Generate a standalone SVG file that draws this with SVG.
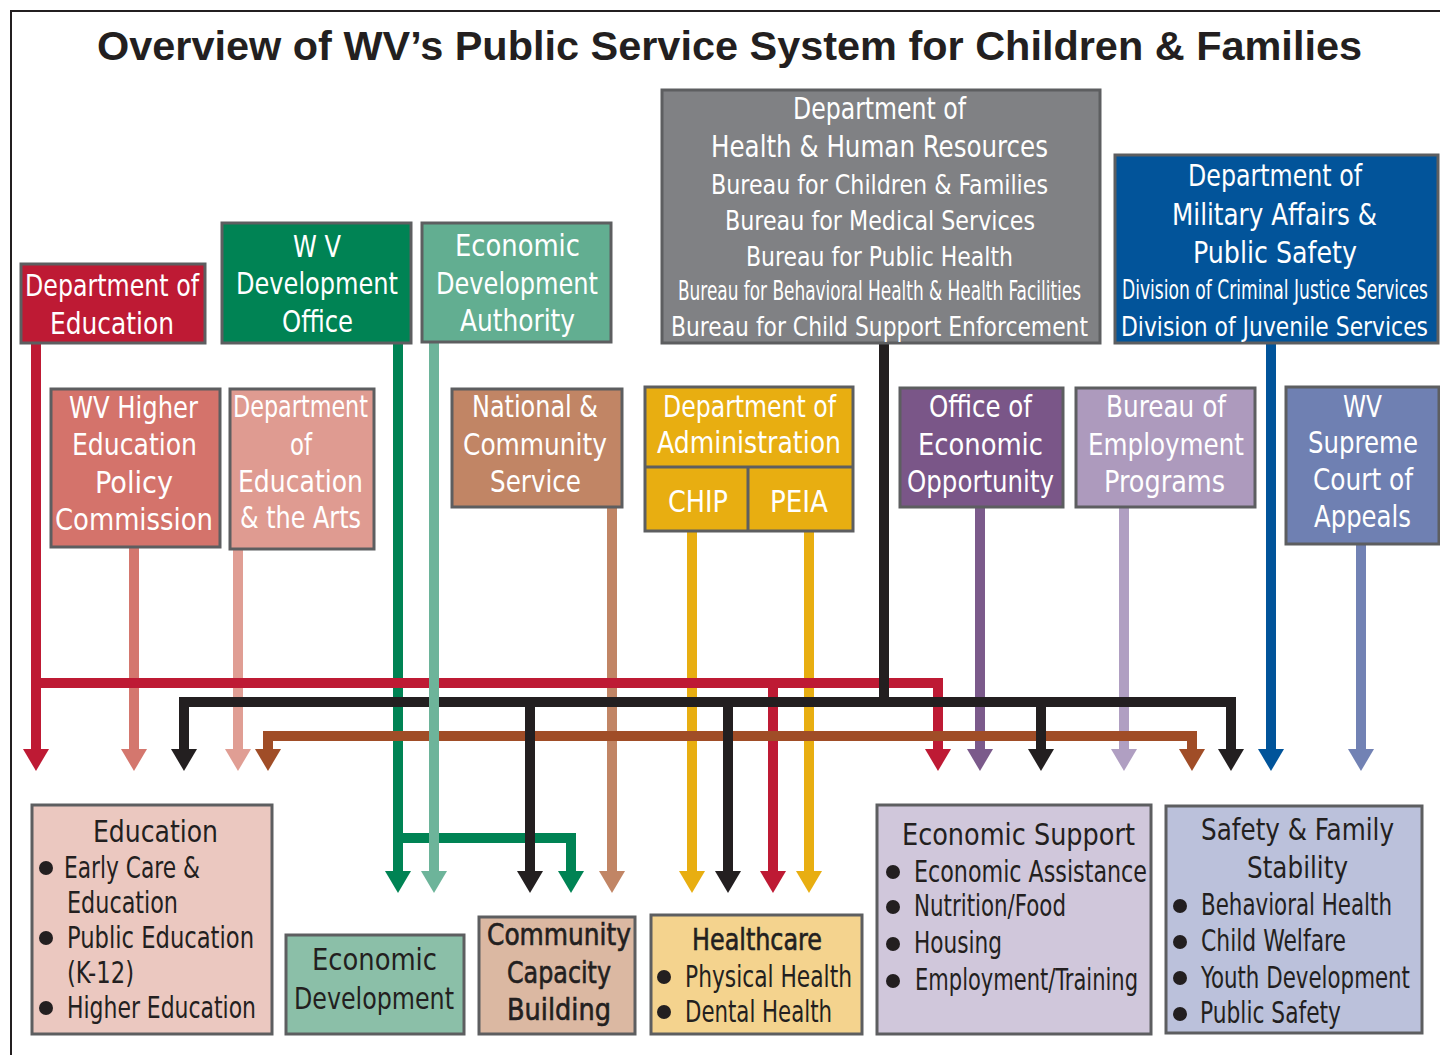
<svg xmlns="http://www.w3.org/2000/svg" xmlns:xlink="http://www.w3.org/1999/xlink" width="1440" height="1055" viewBox="0 0 1440 1055">
  <style>
    .box { stroke: #5d5e60; stroke-width: 3; }
    .t { font-family: "Liberation Sans Narrow", "DejaVu Sans Condensed", "Arial Narrow", sans-serif; font-size: 30px; text-anchor: middle; }
    .s { font-size: 27px; }
    .l { text-anchor: start; }
    .w { fill: #ffffff; }
    .d { fill: #231f20; }
    .m { stroke: #231f20; stroke-width: 0.6; }
    .title { font-family: "Liberation Sans", Arial, sans-serif; font-weight: bold; font-size: 41px; fill: #231f20; text-anchor: middle; }
    .ln { fill: none; stroke-width: 10; stroke-linecap: butt; stroke-linejoin: miter; }
    .c-red { stroke: #be1a34; } .f-red { fill: #be1a34; }
    .c-grn { stroke: #008354; } .f-grn { fill: #008354; }
    .c-lgn { stroke: #6db49a; } .f-lgn { fill: #6db49a; }
    .c-blk { stroke: #231f20; } .f-blk { fill: #231f20; }
    .c-blu { stroke: #01549a; } .f-blu { fill: #01549a; }
    .c-sal { stroke: #d4776e; } .f-sal { fill: #d4776e; }
    .c-pnk { stroke: #e09e94; } .f-pnk { fill: #e09e94; }
    .c-tan { stroke: #c18565; } .f-tan { fill: #c18565; }
    .c-yel { stroke: #e8ae11; } .f-yel { fill: #e8ae11; }
    .c-pur { stroke: #7b5a8b; } .f-pur { fill: #7b5a8b; }
    .c-lav { stroke: #b09fc2; } .f-lav { fill: #b09fc2; }
    .c-sla { stroke: #7282b4; } .f-sla { fill: #7282b4; }
    .c-brn { stroke: #a04d27; } .f-brn { fill: #a04d27; }
    .bullet { fill: #231f20; }
  </style>
  <defs>
    <!-- downward arrowhead, base centred at the origin -->
    <path id="ah" d="M-13,0 H13 L0,22 Z"/>
  </defs>

  <rect width="1440" height="1055" fill="#ffffff"/>
  <!-- page frame -->
  <path d="M11,1055 V11 H1440" fill="none" stroke="#231f20" stroke-width="2"/>

  <text class="title" x="729.5" y="60" textLength="1265" lengthAdjust="spacingAndGlyphs">Overview of WV’s Public Service System for Children &amp; Families</text>

  <!-- connectors -->
  <g id="connectors">
    <!-- lines that pass beneath the horizontal buses -->
    <path class="ln c-grn" d="M398,343 V871"/>
    <path class="ln c-grn" d="M398,838 H571 V871"/>
    <path class="ln c-sal" d="M134,547 V749"/>
    <path class="ln c-pnk" d="M238,549 V749"/>
    <path class="ln c-tan" d="M612,507 V871"/>
    <path class="ln c-yel" d="M692,531 V871"/>
    <path class="ln c-yel" d="M809,531 V871"/>
    <path class="ln c-pur" d="M980,507 V749"/>
    <path class="ln c-lav" d="M1124,507 V749"/>
    <path class="ln c-blu" d="M1271,343 V749"/>
    <path class="ln c-sla" d="M1361,544 V749"/>
    <!-- Department of Education bus -->
    <path class="ln c-red" d="M36,343 V749"/>
    <path class="ln c-red" d="M36,683 H938 V749"/>
    <path class="ln c-red" d="M773,683 V871"/>
    <!-- rust bus -->
    <path class="ln c-brn" d="M268,749 V736 H1192 V749"/>
    <!-- DHHR bus -->
    <path class="ln c-blk" d="M884,343 V702"/>
    <path class="ln c-blk" d="M184,749 V702 H1231 V749"/>
    <path class="ln c-blk" d="M530,702 V871"/>
    <path class="ln c-blk" d="M728,702 V871"/>
    <path class="ln c-blk" d="M1041,702 V749"/>
    <!-- EDA line runs over everything -->
    <path class="ln c-lgn" d="M434,343 V871"/>

    <!-- arrowheads, upper row -->
    <use xlink:href="#ah" href="#ah" x="36" y="749" class="f-red"/>
    <use xlink:href="#ah" href="#ah" x="134" y="749" class="f-sal"/>
    <use xlink:href="#ah" href="#ah" x="184" y="749" class="f-blk"/>
    <use xlink:href="#ah" href="#ah" x="238" y="749" class="f-pnk"/>
    <use xlink:href="#ah" href="#ah" x="268" y="749" class="f-brn"/>
    <use xlink:href="#ah" href="#ah" x="938" y="749" class="f-red"/>
    <use xlink:href="#ah" href="#ah" x="980" y="749" class="f-pur"/>
    <use xlink:href="#ah" href="#ah" x="1041" y="749" class="f-blk"/>
    <use xlink:href="#ah" href="#ah" x="1124" y="749" class="f-lav"/>
    <use xlink:href="#ah" href="#ah" x="1192" y="749" class="f-brn"/>
    <use xlink:href="#ah" href="#ah" x="1231" y="749" class="f-blk"/>
    <use xlink:href="#ah" href="#ah" x="1271" y="749" class="f-blu"/>
    <use xlink:href="#ah" href="#ah" x="1361" y="749" class="f-sla"/>
    <!-- arrowheads, lower row -->
    <use xlink:href="#ah" href="#ah" x="398" y="871" class="f-grn"/>
    <use xlink:href="#ah" href="#ah" x="434" y="871" class="f-lgn"/>
    <use xlink:href="#ah" href="#ah" x="530" y="871" class="f-blk"/>
    <use xlink:href="#ah" href="#ah" x="571" y="871" class="f-grn"/>
    <use xlink:href="#ah" href="#ah" x="612" y="871" class="f-tan"/>
    <use xlink:href="#ah" href="#ah" x="692" y="871" class="f-yel"/>
    <use xlink:href="#ah" href="#ah" x="728" y="871" class="f-blk"/>
    <use xlink:href="#ah" href="#ah" x="773" y="871" class="f-red"/>
    <use xlink:href="#ah" href="#ah" x="809" y="871" class="f-yel"/>
  </g>

  <!-- top row: departments -->
  <g id="dept-education">
    <rect class="box" x="21" y="264" width="184" height="79" fill="#be1a34"/>
    <text class="t w" x="112" y="296" textLength="174" lengthAdjust="spacingAndGlyphs">Department of</text>
    <text class="t w" x="112" y="334" textLength="124" lengthAdjust="spacingAndGlyphs">Education</text>
  </g>
  <g id="wv-development-office">
    <rect class="box" x="222" y="223" width="189" height="120" fill="#008354"/>
    <text class="t w" x="317" y="257" textLength="48" lengthAdjust="spacingAndGlyphs">W V</text>
    <text class="t w" x="317" y="294" textLength="162" lengthAdjust="spacingAndGlyphs">Development</text>
    <text class="t w" x="317.5" y="332" textLength="71" lengthAdjust="spacingAndGlyphs">Office</text>
  </g>
  <g id="economic-development-authority">
    <rect class="box" x="422" y="223" width="189" height="119" fill="#62ae91"/>
    <text class="t w" x="517.5" y="256" textLength="125" lengthAdjust="spacingAndGlyphs">Economic</text>
    <text class="t w" x="517" y="294" textLength="162" lengthAdjust="spacingAndGlyphs">Development</text>
    <text class="t w" x="517.5" y="331" textLength="115" lengthAdjust="spacingAndGlyphs">Authority</text>
  </g>
  <g id="dhhr">
    <rect class="box" x="662" y="90" width="438" height="253" fill="#808184"/>
    <text class="t w" x="879.5" y="119" textLength="173" lengthAdjust="spacingAndGlyphs">Department of</text>
    <text class="t w" x="879.5" y="157" textLength="337" lengthAdjust="spacingAndGlyphs">Health &amp; Human Resources</text>
    <text class="t s w" x="879.5" y="194" textLength="337" lengthAdjust="spacingAndGlyphs">Bureau for Children &amp; Families</text>
    <text class="t s w" x="880" y="230" textLength="310" lengthAdjust="spacingAndGlyphs">Bureau for Medical Services</text>
    <text class="t s w" x="879.5" y="266" textLength="267" lengthAdjust="spacingAndGlyphs">Bureau for Public Health</text>
    <text class="t s w" x="879.5" y="300" textLength="403" lengthAdjust="spacingAndGlyphs">Bureau for Behavioral Health &amp; Health Facilities</text>
    <text class="t s w" x="879.5" y="336" textLength="417" lengthAdjust="spacingAndGlyphs">Bureau for Child Support Enforcement</text>
  </g>
  <g id="military-affairs">
    <rect class="box" x="1115" y="155" width="323" height="188" fill="#02549a"/>
    <text class="t w" x="1275" y="186" textLength="174" lengthAdjust="spacingAndGlyphs">Department of</text>
    <text class="t w" x="1274.5" y="225" textLength="205" lengthAdjust="spacingAndGlyphs">Military Affairs &amp;</text>
    <text class="t w" x="1275" y="263" textLength="164" lengthAdjust="spacingAndGlyphs">Public Safety</text>
    <text class="t s w" x="1275" y="299" textLength="306" lengthAdjust="spacingAndGlyphs">Division of Criminal Justice Services</text>
    <text class="t s w" x="1274.5" y="336" textLength="307" lengthAdjust="spacingAndGlyphs">Division of Juvenile Services</text>
  </g>

  <!-- middle row: commissions, offices and bureaus -->
  <g id="higher-education-commission">
    <rect class="box" x="51" y="389" width="169" height="158" fill="#d4736b"/>
    <text class="t w" x="133.5" y="418" textLength="129" lengthAdjust="spacingAndGlyphs">WV Higher</text>
    <text class="t w" x="134.5" y="455" textLength="125" lengthAdjust="spacingAndGlyphs">Education</text>
    <text class="t w" x="134" y="493" textLength="78" lengthAdjust="spacingAndGlyphs">Policy</text>
    <text class="t w" x="134" y="530" textLength="158" lengthAdjust="spacingAndGlyphs">Commission</text>
  </g>
  <g id="education-and-arts">
    <rect class="box" x="230" y="389" width="144" height="160" fill="#df9b91"/>
    <text class="t w" x="300.5" y="417" textLength="135" lengthAdjust="spacingAndGlyphs">Department</text>
    <text class="t w" x="301" y="455" textLength="22" lengthAdjust="spacingAndGlyphs">of</text>
    <text class="t w" x="300.5" y="492" textLength="125" lengthAdjust="spacingAndGlyphs">Education</text>
    <text class="t w" x="300.5" y="528" textLength="121" lengthAdjust="spacingAndGlyphs">&amp; the Arts</text>
  </g>
  <g id="national-community-service">
    <rect class="box" x="452" y="389" width="170" height="118" fill="#c18565"/>
    <text class="t w" x="535" y="417" textLength="126" lengthAdjust="spacingAndGlyphs">National &amp;</text>
    <text class="t w" x="535" y="455" textLength="144" lengthAdjust="spacingAndGlyphs">Community</text>
    <text class="t w" x="535.5" y="492" textLength="91" lengthAdjust="spacingAndGlyphs">Service</text>
  </g>
  <g id="dept-administration">
    <rect class="box" x="645" y="387" width="208" height="144" fill="#e8ae11"/>
    <path d="M645,467 H853 M748,467 V531" stroke="#5d5e60" stroke-width="3" fill="none"/>
    <text class="t w" x="749.5" y="417" textLength="173" lengthAdjust="spacingAndGlyphs">Department of</text>
    <text class="t w" x="749" y="453" textLength="184" lengthAdjust="spacingAndGlyphs">Administration</text>
    <text class="t w" x="698" y="512" textLength="60" lengthAdjust="spacingAndGlyphs">CHIP</text>
    <text class="t w" x="799" y="512" textLength="58" lengthAdjust="spacingAndGlyphs">PEIA</text>
  </g>
  <g id="economic-opportunity">
    <rect class="box" x="900" y="388" width="163" height="119" fill="#7a5688"/>
    <text class="t w" x="980.5" y="417" textLength="103" lengthAdjust="spacingAndGlyphs">Office of</text>
    <text class="t w" x="980.5" y="455" textLength="125" lengthAdjust="spacingAndGlyphs">Economic</text>
    <text class="t w" x="980.5" y="492" textLength="147" lengthAdjust="spacingAndGlyphs">Opportunity</text>
  </g>
  <g id="employment-programs">
    <rect class="box" x="1076" y="388" width="179" height="119" fill="#ad9abd"/>
    <text class="t w" x="1166" y="417" textLength="120" lengthAdjust="spacingAndGlyphs">Bureau of</text>
    <text class="t w" x="1166" y="455" textLength="156" lengthAdjust="spacingAndGlyphs">Employment</text>
    <text class="t w" x="1164.5" y="492" textLength="121" lengthAdjust="spacingAndGlyphs">Programs</text>
  </g>
  <g id="supreme-court">
    <rect class="box" x="1286" y="387" width="153" height="157" fill="#6f80b2"/>
    <text class="t w" x="1362.5" y="417" textLength="39" lengthAdjust="spacingAndGlyphs">WV</text>
    <text class="t w" x="1363" y="453" textLength="110" lengthAdjust="spacingAndGlyphs">Supreme</text>
    <text class="t w" x="1363" y="490" textLength="100" lengthAdjust="spacingAndGlyphs">Court of</text>
    <text class="t w" x="1362.5" y="527" textLength="97" lengthAdjust="spacingAndGlyphs">Appeals</text>
  </g>

  <!-- bottom row: service areas -->
  <g id="area-education">
    <rect class="box" x="32" y="805" width="240" height="229" fill="#ebc8c0"/>
    <text class="t d" x="155.5" y="842" textLength="125" lengthAdjust="spacingAndGlyphs">Education</text>
    <circle class="bullet" cx="46" cy="868" r="7"/>
    <text class="t l d" x="64" y="878" textLength="136" lengthAdjust="spacingAndGlyphs">Early Care &amp;</text>
    <text class="t l d" x="67" y="913" textLength="111" lengthAdjust="spacingAndGlyphs">Education</text>
    <circle class="bullet" cx="46" cy="938" r="7"/>
    <text class="t l d" x="67" y="948" textLength="187" lengthAdjust="spacingAndGlyphs">Public Education</text>
    <text class="t l d" x="67" y="983" textLength="67" lengthAdjust="spacingAndGlyphs">(K-12)</text>
    <circle class="bullet" cx="46" cy="1008" r="7"/>
    <text class="t l d" x="67" y="1018" textLength="189" lengthAdjust="spacingAndGlyphs">Higher Education</text>
  </g>
  <g id="area-economic-development">
    <rect class="box" x="286" y="935" width="178" height="99" fill="#8bbfa8"/>
    <text class="t d" x="374.5" y="970" textLength="125" lengthAdjust="spacingAndGlyphs">Economic</text>
    <text class="t d" x="374" y="1009" textLength="160" lengthAdjust="spacingAndGlyphs">Development</text>
  </g>
  <g id="area-community-capacity">
    <rect class="box" x="479" y="917" width="156" height="117" fill="#dbb8a2"/>
    <text class="t d m" x="559" y="945" textLength="144" lengthAdjust="spacingAndGlyphs">Community</text>
    <text class="t d m" x="559" y="983" textLength="104" lengthAdjust="spacingAndGlyphs">Capacity</text>
    <text class="t d m" x="559" y="1020" textLength="104" lengthAdjust="spacingAndGlyphs">Building</text>
  </g>
  <g id="area-healthcare">
    <rect class="box" x="651" y="915" width="211" height="119" fill="#f4d38e"/>
    <text class="t d m" x="757" y="950" textLength="130" lengthAdjust="spacingAndGlyphs">Healthcare</text>
    <circle class="bullet" cx="664" cy="977" r="7"/>
    <text class="t l d" x="685" y="987" textLength="167" lengthAdjust="spacingAndGlyphs">Physical Health</text>
    <circle class="bullet" cx="664" cy="1012" r="7"/>
    <text class="t l d" x="685" y="1022" textLength="147" lengthAdjust="spacingAndGlyphs">Dental Health</text>
  </g>
  <g id="area-economic-support">
    <rect class="box" x="877" y="805" width="274" height="229" fill="#d0c7db"/>
    <text class="t d" x="1018.5" y="845" textLength="233" lengthAdjust="spacingAndGlyphs">Economic Support</text>
    <circle class="bullet" cx="893" cy="872" r="7"/>
    <text class="t l d" x="914" y="882" textLength="233" lengthAdjust="spacingAndGlyphs">Economic Assistance</text>
    <circle class="bullet" cx="893" cy="907" r="7"/>
    <text class="t l d" x="914" y="916" textLength="152" lengthAdjust="spacingAndGlyphs">Nutrition/Food</text>
    <circle class="bullet" cx="893" cy="944" r="7"/>
    <text class="t l d" x="914" y="953" textLength="88" lengthAdjust="spacingAndGlyphs">Housing</text>
    <circle class="bullet" cx="893" cy="981" r="7"/>
    <text class="t l d" x="915" y="990" textLength="223" lengthAdjust="spacingAndGlyphs">Employment/Training</text>
  </g>
  <g id="area-safety-family-stability">
    <rect class="box" x="1166" y="806" width="256" height="227" fill="#bbc1db"/>
    <text class="t d" x="1297.5" y="840" textLength="193" lengthAdjust="spacingAndGlyphs">Safety &amp; Family</text>
    <text class="t d" x="1297.5" y="878" textLength="101" lengthAdjust="spacingAndGlyphs">Stability</text>
    <circle class="bullet" cx="1180" cy="906" r="7"/>
    <text class="t l d" x="1201" y="915" textLength="191" lengthAdjust="spacingAndGlyphs">Behavioral Health</text>
    <circle class="bullet" cx="1180" cy="942" r="7"/>
    <text class="t l d" x="1201" y="951" textLength="145" lengthAdjust="spacingAndGlyphs">Child Welfare</text>
    <circle class="bullet" cx="1180" cy="978" r="7"/>
    <text class="t l d" x="1201" y="988" textLength="209" lengthAdjust="spacingAndGlyphs">Youth Development</text>
    <circle class="bullet" cx="1180" cy="1014" r="7"/>
    <text class="t l d" x="1200" y="1023" textLength="141" lengthAdjust="spacingAndGlyphs">Public Safety</text>
  </g>
</svg>
